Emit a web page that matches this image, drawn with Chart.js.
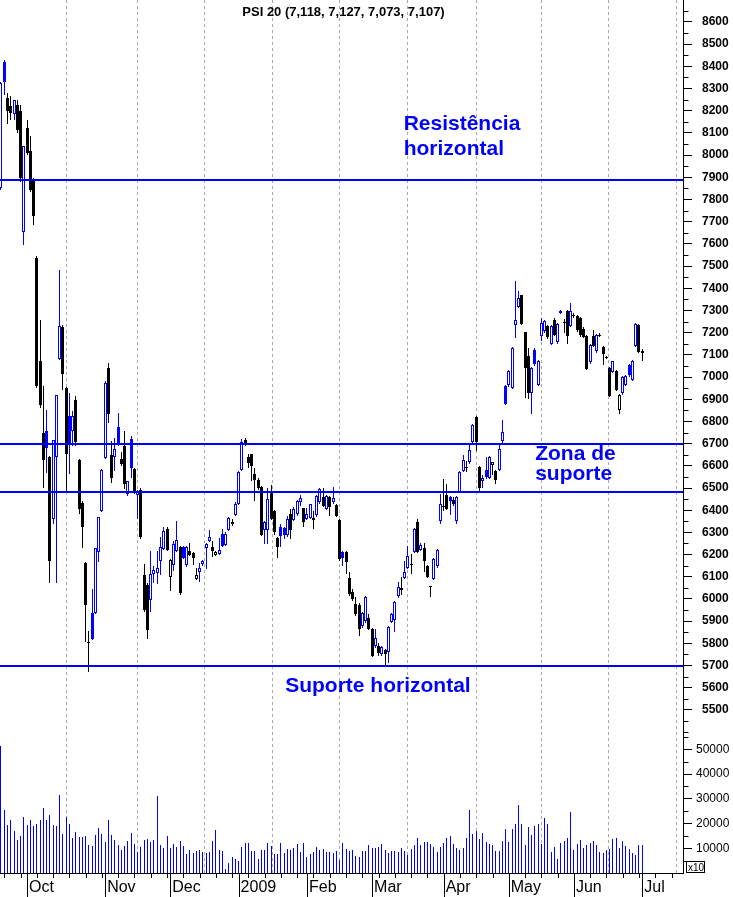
<!DOCTYPE html>
<html><head><meta charset="utf-8">
<script src="https://cdn.jsdelivr.net/npm/chart.js@4/dist/chart.umd.min.js"></script>
<style>html,body{margin:0;padding:0;background:#fff;}canvas{display:block;}</style>
</head><body>
<canvas id="c" width="733" height="897"></canvas>
<script>
const TITLE = 'PSI 20 (7,118, 7,127, 7,073, 7,107)';
const OPEN = [7853,8418,8258,8223,8186,8228,8200,7654,8123,8018,7882,7537,7073,6746,6755,6639,6359,6640,7080,7227,6950,6823,6755,6898,6624,6434,6160,5805,5937,5935,
6210,6395,6637,7040,6649,6640,6775,6630,6690,6472,6719,6585,6468,6490,6110,6064,5996,6113,6118,6173,6225,6315,6101,6151,6218,6233,6236,6151,6218,6206,6091,6121,6158,6230,6263,6233,6199,6203,6293,6245,6311,6338,6380,
6430,6580,6715,6640,6652,6562,6537,6505,6310,6310,6477,6397,6274,6325,6319,6288,6382,6355,6382,6435,
6409,6360,6367,6364,6378,6435,6460,6405,6460,6435,6424,6355,6210,6210,6094,6030,5978,5975,5880,5900,5912,5865,5786,5790,5750,5771,5760,5895,5903,6012,6040,6094,6139,6157,6210,6345,6220,6230,6150,6057,6090,6147,
6353,6418,6470,6460,6445,6353,6484,6577,6595,6615,6709,6821,6595,6530,6580,6547,6604,6577,6580,6712,
6959,6965,6951,7236,7314,7368,7201,7094,6929,7124,6963,7184,7206,7228,7149,7258,7157,7288,7245,7296,7228,7281,7273,7266,7218,7184,7068,7184,7116,7191,7134,7088,7041,7023,7026,6850,6929,6966,7056,6987,7139,7234,7118];
const HIGH = [8330,8428,8280,8265,8250,8250,8225,8043,8160,8085,7897,7546,7257,6960,6853,6645,6718,6920,7481,7235,6955,6930,6845,6915,6630,6440,6165,5857,6044,6228,
6368,6585,6980,7062,6710,6727,6839,6660,6757,6532,6734,6590,6490,6499,6158,6070,6218,6150,6218,6278,6323,6323,6180,6263,6353,6240,6240,6240,6251,6210,6140,6164,6175,6252,6311,6263,6215,6275,6315,6300,6370,6360,6435,
6575,6719,6724,6655,6655,6592,6545,6510,6350,6502,6514,6400,6280,6337,6325,6375,6405,6415,6445,6470,
6412,6409,6430,6397,6470,6499,6499,6470,6462,6505,6430,6360,6215,6215,6120,6045,6007,5980,5940,6015,5932,5870,5865,5800,5790,5775,5880,5935,5990,6075,6100,6172,6240,6202,6320,6360,6250,6250,6155,6060,6185,6225,
6472,6540,6517,6465,6460,6465,6575,6649,6622,6700,6790,6825,6600,6560,6640,6645,6615,6580,6697,6805,
6965,7030,7135,7433,7386,7370,7205,7131,7045,7130,7075,7266,7258,7235,7235,7265,7245,7300,7260,7300,7333,7290,7280,7270,7225,7190,7150,7213,7195,7198,7140,7095,7045,7074,7030,6925,7005,7010,7060,7075,7245,7240,7127];
const LOW = [7845,8273,8138,8160,8157,8100,7880,7594,8000,7835,7683,6950,6860,6498,6568,6070,6340,6070,7075,6940,6480,6564,6690,6688,6381,6228,5805,5670,5815,5930,
6166,6390,6630,6791,6523,6577,6690,6600,6495,6465,6547,6475,6360,6270,5940,5821,5941,6070,6068,6110,6220,6215,6038,6128,6210,6020,6180,6145,6195,6151,6085,6076,6150,6136,6255,6188,6195,6200,6235,6240,6305,6330,6375,
6425,6575,6690,6592,6532,6442,6490,6285,6247,6247,6355,6290,6184,6235,6270,6280,6270,6350,6375,6420,
6325,6355,6362,6315,6370,6430,6415,6400,6375,6430,6370,6170,6150,6112,6015,5990,5925,5835,5870,5890,5858,5740,5780,5745,5745,5700,5710,5890,5850,6005,6018,6090,6135,6112,6205,6205,6215,6120,6095,6007,6085,6140,
6340,6398,6400,6380,6420,6340,6480,6570,6570,6610,6700,6667,6484,6500,6540,6540,6559,6517,6575,6705,
6875,6955,6945,7176,7310,7235,6907,6899,6832,7050,6960,7161,7200,7170,7145,7185,7150,7285,7200,7150,7225,7265,7205,7180,7175,7030,7060,7135,7110,7180,7056,7080,6910,7020,6935,6832,6920,6960,7000,6980,7135,7110,7073];
const CLOSE = [8325,8330,8198,8190,8250,8112,7895,8043,8010,7845,7725,6960,6875,6624,6680,6172,6718,6920,7230,7013,6654,6695,6826,6706,6404,6326,5972,5800,5820,6228,
6368,6580,6974,6832,6547,6674,6697,6607,6517,6532,6592,6480,6483,6278,5949,5862,6113,6130,6140,6233,6308,6221,6176,6248,6266,6026,6185,6236,6200,6185,6106,6140,6169,6248,6278,6218,6213,6221,6240,6293,6365,6348,6430,
6570,6709,6701,6612,6600,6535,6500,6288,6348,6450,6360,6300,6232,6285,6290,6360,6310,6405,6440,6455,
6345,6385,6427,6355,6465,6495,6420,6462,6415,6457,6375,6180,6185,6165,6022,6000,5933,5865,5935,6010,5865,5745,5825,5755,5785,5753,5873,5930,5985,6055,6050,6120,6192,6155,6315,6210,6244,6170,6100,6055,6180,6220,
6428,6413,6405,6440,6430,6460,6570,6625,6590,6670,6784,6709,6502,6545,6550,6640,6615,6535,6675,6754,
6880,7025,7131,7258,7356,7239,7041,6929,7041,7059,7071,7243,7251,7179,7228,7191,7239,7296,7243,7184,7299,7273,7213,7188,7181,7038,7143,7139,7191,7184,7104,7086,6914,7071,6940,6919,7000,7004,7010,7071,7239,7115,7107];
const VOLUME = [51200,25300,19500,21300,16800,13200,15100,22800,19500,21300,
19100,19900,21500,26400,21300,23600,19500,18900,31700,15900,
22800,19900,14100,16700,14500,14400,14800,11400,10800,15500,
18300,15900,12400,21300,15500,13500,11400,9400,11000,13100,
16200,11900,8600,10600,13500,13900,12700,13500,31000,11400,
10200,14800,10200,11700,10500,13100,11000,7800,9400,8200,
9000,9400,8400,8200,8600,12800,17500,9400,8800,1750,
4200,6300,5800,5000,10400,12300,12300,9000,9000,5800,
9400,9400,12300,11000,7800,7800,12300,8200,9800,9400,
10200,11900,8600,12300,6600,7800,8600,10600,9400,9800,
8600,8600,8200,9000,5400,12300,9800,9000,9400,7000,
6600,9000,9000,11400,
10200,10000,10400,11900,9400,8200,9000,9000,8600,10200,
9000,7400,9800,11400,14300,11400,12700,12700,11900,10600,
8600,10600,12300,14300,15100,11900,10200,9400,10200,14300,
25600,15900,17100,13900,16300,12700,11900,11400,9000,9000,
13100,17900,12700,17900,19900,27600,19900,11400,18700,15500,
19100,19900,11900,22400,19900,8600,10600,5800,12300,13100,
14300,24800,9400,11900,13500,10200,11400,12300,13100,11400,
8600,8200,9400,9800,13900,14300,10200,13100,11000,9800,
8200,7400,11400,11400];
const MONTH_LABELS = ['Oct','Nov','Dec','2009','Feb','Mar','Apr','May','Jun','Jul'];
const MONTH_START = [8,32,52,73,94,114,136,156,176,197];
const PRICE_TICKS = [5500,5600,5700,5800,5900,6000,6100,6200,6300,6400,6500,6600,6700,6800,6900,7000,7100,7200,7300,7400,7500,7600,7700,7800,7900,8000,8100,8200,8300,8400,8500,8600];
const VOLUME_TICKS = [10000,20000,30000,40000,50000];
const LEVELS = [7890,6700,6480,5700];
const NOTE_TEXT = ['Resistência','horizontal','Zona de','suporte','Suporte horizontal'];
const NOTE_AT = [123.7,123.7,164.1,164.1,87.3];
const NOTE_PRICE = [8113,8001,6626,6536,5581];

const BLUE = '#0000ff';
const FONT = '"Liberation Sans", Arial, Helvetica, sans-serif';
const X_MIN = -0.307, X_MAX = 209.52;
const PRICE_MIN = 5387, PRICE_MAX = 8699, VOL_MAX = 55760;

const candleColor = i => (CLOSE[i] >= (i > 0 ? CLOSE[i-1] : OPEN[i])) ? BLUE : '#000000';
const hollow = i => CLOSE[i] > OPEN[i];

// snap bars to whole pixels so thin candles stay crisp
const baseDraw = Chart.BarElement.prototype.draw;
Chart.BarElement.prototype.draw = function (ctx) {
  const ox = this.x, oy = this.y, ob = this.base, w = this.width;
  this.x = Math.round(ox - w / 2) + w / 2;
  let y = Math.round(oy), b = Math.round(ob);
  if (y === b) { b = y + 1; }
  this.y = y; this.base = b;
  baseDraw.call(this, ctx);
  this.x = ox; this.y = oy; this.base = ob;
};

const noPad = s => { s.paddingTop = 0; s.paddingBottom = 0; s.paddingLeft = 0; s.paddingRight = 0; };

const overlay = {
  id: 'overlay',
  afterDatasetsDraw(chart) {
    const {ctx, chartArea: ca, scales: {x, y}} = chart;
    ctx.save();
    ctx.strokeStyle = BLUE; ctx.lineWidth = 2;
    LEVELS.forEach(v => {
      const py = Math.round(y.getPixelForValue(v));
      ctx.beginPath(); ctx.moveTo(ca.left, py); ctx.lineTo(ca.right, py); ctx.stroke();
    });
    ctx.fillStyle = BLUE;
    ctx.font = 'bold 21px ' + FONT;
    ctx.textAlign = 'left'; ctx.textBaseline = 'alphabetic';
    NOTE_TEXT.forEach((t, k) => ctx.fillText(t, x.getPixelForValue(NOTE_AT[k]), y.getPixelForValue(NOTE_PRICE[k])));
    ctx.restore();
  },
  afterDraw(chart) {
    const {ctx, chartArea: ca, scales: {x, y, yv}} = chart;
    ctx.save();
    ctx.fillStyle = '#000';
    ctx.font = 'bold 13px ' + FONT;
    ctx.textAlign = 'center'; ctx.textBaseline = 'alphabetic';
    ctx.fillText(TITLE, (ca.left + ca.right) / 2 + 2, 16);
    ctx.strokeStyle = '#000'; ctx.lineWidth = 1;
    const bottom = chart.height;
    MONTH_START.forEach(v => {
      const px = Math.round(x.getPixelForValue(v)) + 0.5;
      ctx.beginPath(); ctx.moveTo(px, ca.bottom); ctx.lineTo(px, bottom); ctx.stroke();
    });
    for (let v = 1; v <= X_MAX; v += 5) {
      const px = Math.round(x.getPixelForValue(v)) + 0.5;
      ctx.beginPath(); ctx.moveTo(px, ca.bottom); ctx.lineTo(px, ca.bottom + 5); ctx.stroke();
    }
    const ax = Math.round(y.left) + 0.5;
    const pmin = [5400, 5450].concat(PRICE_TICKS.map(v => v + 50));
    pmin.forEach(v => {
      const py = Math.round(y.getPixelForValue(v)) + 0.5;
      if (py < y.top || py > y.bottom) return;
      ctx.beginPath(); ctx.moveTo(ax, py); ctx.lineTo(ax + 5, py); ctx.stroke();
    });
    VOLUME_TICKS.map(v => v - 5000).concat([55000]).forEach(v => {
      const py = Math.round(yv.getPixelForValue(v)) + 0.5;
      ctx.beginPath(); ctx.moveTo(ax, py); ctx.lineTo(ax + 5, py); ctx.stroke();
    });
    ctx.strokeRect(Math.round(yv.left) + 3.5, Math.round(yv.bottom) - 11.5, 18, 11);
    ctx.font = '10px ' + FONT; ctx.textAlign = 'left'; ctx.textBaseline = 'alphabetic';
    ctx.fillText('x10', Math.round(yv.left) + 5, Math.round(yv.bottom) - 2);
    ctx.restore();
  }
};

new Chart(document.getElementById('c'), {
  type: 'bar',
  data: {
    datasets: [
      {
        label: 'body', yAxisID: 'y', order: 0, grouped: false,
        data: OPEN.map((o, i) => ({x: i, y: [o, CLOSE[i]]})),
        barThickness: 3, borderWidth: 1, borderSkipped: false, minBarLength: 1, inflateAmount: 0,
        borderColor: c => candleColor(c.dataIndex),
        backgroundColor: c => hollow(c.dataIndex) ? '#ffffff' : candleColor(c.dataIndex)
      },
      {
        label: 'wick', yAxisID: 'y', order: 1, grouped: false,
        data: LOW.map((l, i) => ({x: i, y: [l, HIGH[i]]})),
        barThickness: 1, borderWidth: 0, inflateAmount: 0,
        backgroundColor: c => candleColor(c.dataIndex)
      },
      {
        label: 'volume', yAxisID: 'yv', order: 2, grouped: false,
        data: VOLUME.map((v, i) => ({x: i, y: v})),
        barThickness: 1, borderWidth: 0, inflateAmount: 0,
        backgroundColor: BLUE
      }
    ]
  },
  options: {
    responsive: false, animation: false, devicePixelRatio: 1,
    layout: {padding: 0},
    plugins: {legend: {display: false}, tooltip: {enabled: false}, title: {display: false}},
    scales: {
      x: {
        type: 'linear', min: X_MIN, max: X_MAX, offset: false, position: 'bottom',
        afterBuildTicks: s => { s.ticks = MONTH_START.map(v => ({value: v})); },
        afterFit: s => { s.height = 24; noPad(s); },
        ticks: {autoSkip: false, maxRotation: 0, minRotation: 0, align: 'start', labelOffset: 2, padding: 5,
          color: '#000', font: {family: FONT, size: 16},
          callback: (v, i) => MONTH_LABELS[i]},
        grid: {display: true, drawOnChartArea: true, drawTicks: false, color: '#a8a8a8', lineWidth: 1},
        border: {display: true, color: '#000', width: 1, dash: [3, 3]}
      },
      y: {
        type: 'linear', position: 'right', stack: 'axes', stackWeight: 735, weight: 1,
        min: PRICE_MIN, max: PRICE_MAX,
        afterBuildTicks: s => { s.ticks = PRICE_TICKS.map(v => ({value: v})); },
        afterFit: s => { s.width = 50; noPad(s); },
        ticks: {autoSkip: false, padding: 10, color: '#000', font: {family: FONT, size: 12, weight: 'bold'}, callback: v => String(v)},
        grid: {drawOnChartArea: false, drawTicks: true, tickLength: 9, tickColor: '#000', tickWidth: 1},
        border: {display: true, color: '#000', width: 1}
      },
      yv: {
        type: 'linear', position: 'right', stack: 'axes', stackWeight: 138, weight: 1,
        min: 0, max: VOL_MAX,
        afterBuildTicks: s => { s.ticks = VOLUME_TICKS.map(v => ({value: v})); },
        afterFit: s => { s.width = 50; noPad(s); },
        ticks: {autoSkip: false, padding: 4, color: '#000', font: {family: FONT, size: 12}, callback: v => String(v)},
        grid: {drawOnChartArea: false, drawTicks: true, tickLength: 9, tickColor: '#000', tickWidth: 1},
        border: {display: true, color: '#000', width: 1}
      }
    }
  },
  plugins: [overlay]
});
</script>
</body></html>
